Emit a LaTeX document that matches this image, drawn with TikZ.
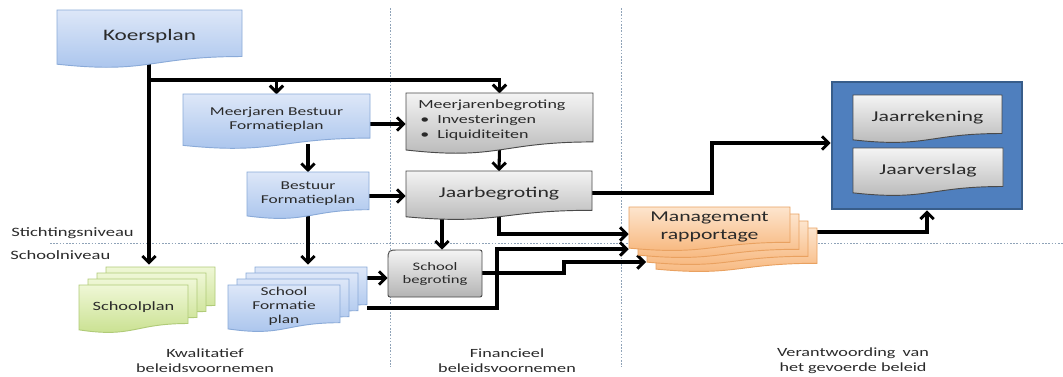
\documentclass[tikz,border=0pt]{standalone}
\usepackage{fontspec}
\setmainfont{Carlito}[FakeStretch=1.45]
\usetikzlibrary{arrows.meta,calc}
\pgfdeclarelayer{bg}
\pgfdeclarelayer{lines}
\pgfsetlayers{bg,lines,main}
\definecolor{bluetop}{HTML}{DDE7F8}
\definecolor{bluebot}{HTML}{A6C2EC}
\definecolor{blueline}{HTML}{8AAAD8}
\definecolor{graytop}{HTML}{F4F4F4}
\definecolor{graybot}{HTML}{B4B4B4}
\definecolor{grayline}{HTML}{4A4A4A}
\definecolor{greentop}{HTML}{EFF7D6}
\definecolor{greenbot}{HTML}{C6DF8A}
\definecolor{greenline}{HTML}{B0CB78}
\definecolor{orangetop}{HTML}{FDE5CE}
\definecolor{orangebot}{HTML}{F7B478}
\definecolor{orangeline}{HTML}{E9A160}
\definecolor{boxfill}{HTML}{4F7FBE}
\definecolor{boxline}{HTML}{385D8A}
\definecolor{guidecol}{HTML}{8FA3B8}
\definecolor{txt}{HTML}{2A2A2A}

% document shape: x1 y1 x2 h style
\newcommand\docshape[5]{%
  \path[#5] (#1,#2) -- (#3,#2) -- (#3,{#2+0.802*#4})
    .. controls ({(#1+#3)/2},{#2+0.802*#4}) and ({(#1+#3)/2},{#2+1.107*#4}) ..
    (#1,{#2+0.934*#4}) -- cycle;}
% text node over document shape: name x1 y1 x2 h style text
\newcommand\doctext[7]{%
  \node[minimum width={(#4-#2)*0.75pt}, minimum height={0.9*#5*0.75pt}, inner sep=0pt,
        align=center, text=txt, #6] (#1) at ({(#2+#4)/2},{#3+0.46*#5}) {#7};}
% invisible frame node: name x1 y1 x2 y2 style
\newcommand\framenode[6]{%
  \node[minimum width={(#4-#2)*0.75pt}, minimum height={(#5-#3)*0.75pt}, inner sep=0pt, #6]
    (#1) at ({(#2+#4)/2},{(#3+#5)/2}) {};}

\tikzset{
  bluedoc/.style={draw=blueline, line width=0.7pt, top color=bluetop, bottom color=bluebot},
  graydoc/.style={draw=grayline, line width=0.7pt, top color=graytop, bottom color=graybot},
  greendoc/.style={draw=greenline, line width=0.7pt, top color=greentop, bottom color=greenbot},
  orangedoc/.style={draw=orangeline, line width=0.7pt, top color=orangetop, bottom color=orangebot},
  conn/.style={draw=black, line width=2.3pt},
  arr/.style={conn, -{Straight Barb[length=5pt,width=10pt,line width=2.2pt]}},
  guide/.style={draw=guidecol, line width=0.6pt, dash pattern=on 1.2pt off 1.2pt},
  lbl/.style={text=txt, inner sep=0pt, font=\fontsize{9.6}{11.25}\selectfont},
  blbl/.style={text=txt, inner sep=0pt, align=center, font=\fontsize{9.4}{11.25}\selectfont}
}

\begin{document}
\begin{tikzpicture}[x=0.75pt, y=-0.75pt]
\begin{pgfonlayer}{bg}
\fill[white] (0,0) rectangle (1063,376);
\end{pgfonlayer}
\useasboundingbox (0,0) rectangle (1063,376);

% ---------- shapes ----------
% Koersplan
\docshape{57}{10}{242}{58}{bluedoc}
\doctext{kp}{57}{10}{242}{58}{font=\fontsize{12}{14}\selectfont}{Koersplan}

% Meerjaren Bestuur Formatieplan
\docshape{183}{94}{370}{55}{bluedoc}
\doctext{mbf}{183}{94}{370}{55}{font=\fontsize{9}{10.5}\selectfont}{Meerjaren Bestuur\\Formatieplan}

% Meerjarenbegroting
\docshape{406}{93}{593}{61}{graydoc}
\doctext{mjb}{406}{93}{593}{61}{}{}
\node[anchor=north west, align=left, inner sep=0pt, text=txt, font=\fontsize{9.3}{11.25}\selectfont] (mjbtxt) at (418,99.5)
  {Meerjarenbegroting\\
   \hspace{1.5pt}\makebox[12.75pt][l]{\textbullet}Investeringen\\
   \hspace{1.5pt}\makebox[12.75pt][l]{\textbullet}Liquiditeiten};

% Jaarbegroting
\docshape{406}{171}{592}{49}{graydoc}
\doctext{jb}{406}{171}{592}{49}{font=\fontsize{11.25}{13}\selectfont}{Jaarbegroting}

% Bestuur Formatieplan
\docshape{247}{172}{369}{47}{bluedoc}
\doctext{bf}{247}{172}{369}{47}{font=\fontsize{9}{10.5}\selectfont}{Bestuur\\Formatieplan}

% Schoolplan stack
\foreach \k in {3,2,1}{\docshape{79+9*\k}{285-6*\k}{188+9*\k}{48}{greendoc}}
\docshape{79}{285}{188}{48}{greendoc}
\doctext{sp}{79}{285}{188}{48}{font=\fontsize{9.5}{11}\selectfont}{Schoolplan}
\framenode{spstack}{79}{265}{215}{333}{}

% School Formatie plan stack
\foreach \k in {3,2,1}{\docshape{228+9*\k}{285-6*\k}{340+9*\k}{47}{bluedoc}}
\docshape{228}{285}{340}{47}{bluedoc}
\doctext{sfp}{228}{285}{340}{47}{font=\fontsize{9}{10.5}\selectfont}{School\\Formatie\\plan}
\framenode{sfpstack}{228}{265}{367}{332}{}

% School begroting
\path[graydoc, rounded corners=1.5pt] (388,297) -- (388,263) .. controls (388,250) .. (401,250)
   -- (482,250) -- (482,297) -- cycle;
\framenode{sbframe}{388}{250}{482}{297}{}
\node[align=center, inner sep=0pt, text=txt, font=\fontsize{8.6}{9.75}\selectfont]
   (sb) at (sbframe.center) {School\\begroting};

% Management rapportage stack
\foreach \k in {3,2,1}{\docshape{629+9*\k}{207+7*\k}{790+9*\k}{44}{orangedoc}}
\docshape{629}{207}{790}{44}{orangedoc}
\doctext{mr}{629}{207}{790}{44}{font=\fontsize{11.25}{13.5}\selectfont}{Management\\rapportage}
\framenode{mrstack}{629}{207}{817}{272}{}
\coordinate (mrback) at (646,262);

% Jaar box
\framenode{jbox}{832}{82}{1022}{209}{draw=boxline, line width=2pt, fill=boxfill}
\docshape{853}{95}{1002}{48}{graydoc}
\doctext{jr}{853}{95}{1002}{48}{font=\fontsize{11.25}{13}\selectfont}{Jaarrekening}
\docshape{853}{148}{1003}{48}{graydoc}
\doctext{jv}{853}{148}{1003}{48}{font=\fontsize{11.25}{13}\selectfont}{Jaarverslag}

% ---------- labels ----------
\node[lbl, anchor=west] (stn) at (11,233) {Stichtingsniveau};
\node[lbl, anchor=west] (scn) at (10,255) {Schoolniveau};
\node[blbl] (kw) at (205,361) {Kwalitatief\\beleidsvoornemen};
\node[blbl] (fin) at (507,361) {Financieel\\beleidsvoornemen};
\node[blbl] (ver) at (853,361) {Verantwoording\hspace{0.25em} van\\het gevoerde beleid};

% ---------- connectors & guides ----------
\begin{pgfonlayer}{lines}
\draw[guide] (390,8) -- (390,367);
\draw[guide] (621,8) -- (621,367);
\draw[guide] (50,243) -- (1063,243);

\coordinate (kx) at (149,80);
\draw[arr] (kp.south -| kx) -- (kx |- spstack.north);
\draw[arr] (kx) -| (mjb.north);
\draw[arr] (kx -| mbf.north) -- (mbf.north);
\draw[arr] (mbf.east |- 0,124) -- (mjb.west |- 0,124);
\draw[arr] (mjb.south) -- (jb.north);
\draw[arr] (mbf.south -| bf.north) -- (bf.north);
\draw[arr] (bf.east |- 0,196) -- (jb.west |- 0,196);
\draw[arr] (bf.south) -- (bf.south |- sfpstack.north);
\draw[arr] (sfpstack.east |- 0,278) -- (sbframe.west |- 0,278);
\draw[arr] (sfpstack.east |- 0,308) -- (497,308) -- (497,249) -- (mrstack.west |- 0,249);
\draw[arr] (jb.south -| 499,0) -- (499,234) -- (mrstack.west |- 0,234);
\draw[arr] (jb.south -| 442,0) -- (sbframe.north -| 442,0);
\draw[arr] (sbframe.east |- 0,273) -- (564,273) -- (564,262) -- (mrback);
\draw[arr] (jb.east |- 0,193) -- (712,193) -- (712,143) -- (jbox.west |- 0,143);
\draw[arr] (mr.east |- 0,232) -| (jbox.south);
\end{pgfonlayer}
\end{tikzpicture}
\end{document}
